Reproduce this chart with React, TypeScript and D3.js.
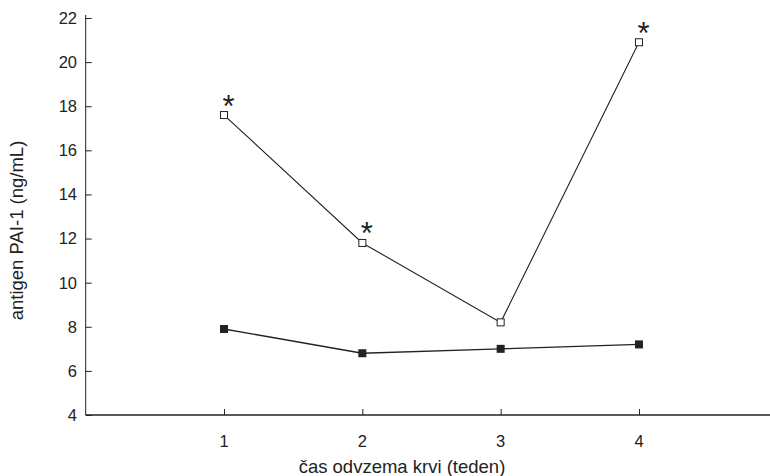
import * as d3 from 'd3';
import { useRef, useEffect } from 'react';

const weeks = [1, 2, 3, 4];
const groupOpen = [17.6, 11.8, 8.2, 20.9];
const groupFilled = [7.9, 6.8, 7.0, 7.2];
const significant = [true, true, false, true];
const yTicks = [4, 6, 8, 10, 12, 14, 16, 18, 20, 22];

export default function App() {
  const svgRef = useRef<SVGSVGElement>(null);

  useEffect(() => {
    if (!svgRef.current) return;
    const svg = d3.select(svgRef.current);
    svg.selectAll('*').remove();

    const width = 770;
    const height = 476;
    const font = 'Liberation Sans, Arial, sans-serif';

    const x = d3.scaleLinear().domain([0, 5]).range([85.7, 777.3]);
    const y = d3.scaleLinear().domain([4, 22]).range([415, 18]);

    svg.attr('width', width).attr('height', height);

    // Y axis
    const yAxis = svg.append('g').attr('transform', `translate(${x(0)},0)`)
      .call(d3.axisRight(y).tickValues(yTicks).tickSize(6).tickFormat(() => ''));
    yAxis.select('.domain').attr('stroke', '#222').attr('stroke-width', 1).attr('d', `M0,${y(22) - 3}V${y(4)}`);
    yAxis.selectAll('.tick line').attr('stroke', '#222');

    svg.append('g').selectAll('text').data(yTicks).join('text')
      .attr('x', 77).attr('y', (d) => y(d)).attr('dy', '0.36em')
      .attr('text-anchor', 'end').attr('font-family', font).attr('font-size', 16.5).attr('fill', '#222')
      .text((d) => d);

    // X axis
    const xAxis = svg.append('g').attr('transform', `translate(0,${y(4)})`)
      .call(d3.axisTop(x).tickValues(weeks).tickSize(6).tickFormat(() => ''));
    xAxis.select('.domain').attr('stroke', '#222').attr('stroke-width', 1.5).attr('d', `M${x(0)},0H770`);
    xAxis.selectAll('.tick line').attr('stroke', '#222');

    svg.append('g').selectAll('text').data(weeks).join('text')
      .attr('x', (d) => x(d)).attr('y', 441).attr('dy', '0.36em')
      .attr('text-anchor', 'middle').attr('font-family', font).attr('font-size', 16.5).attr('fill', '#222')
      .text((d) => d);

    // Axis titles
    svg.append('text')
      .attr('transform', `translate(23,${(y(4) + y(22)) / 2 + 14}) rotate(-90)`)
      .attr('text-anchor', 'middle').attr('font-family', font).attr('font-size', 18.5).attr('fill', '#222')
      .text('antigen PAI-1 (ng/mL)');

    svg.append('text')
      .attr('x', 402).attr('y', 466).attr('dy', '0.36em')
      .attr('text-anchor', 'middle').attr('font-family', font).attr('font-size', 18.5).attr('fill', '#222')
      .text('čas odvzema krvi (teden)');

    const line = d3.line<number>().x((_, i) => x(weeks[i])).y((d) => y(d));

    // Filled series
    svg.append('path').datum(groupFilled)
      .attr('fill', 'none').attr('stroke', '#222').attr('stroke-width', 1.4)
      .attr('d', line);
    svg.append('g').selectAll('rect').data(groupFilled).join('rect')
      .attr('x', (_, i) => x(weeks[i]) - 4).attr('y', (d) => y(d) - 4)
      .attr('width', 8).attr('height', 8).attr('fill', '#222');

    // Open series
    svg.append('path').datum(groupOpen)
      .attr('fill', 'none').attr('stroke', '#222').attr('stroke-width', 1.1)
      .attr('d', line);
    svg.append('g').selectAll('rect').data(groupOpen).join('rect')
      .attr('x', (_, i) => x(weeks[i]) - 3.5).attr('y', (d) => y(d) - 3.5)
      .attr('width', 7).attr('height', 7).attr('fill', '#fff')
      .attr('stroke', '#222').attr('stroke-width', 1);

    // Significance markers
    svg.append('g').selectAll('text')
      .data(groupOpen.map((v, i) => ({ v, i })).filter((d) => significant[d.i]))
      .join('text')
      .attr('x', (d) => x(weeks[d.i]) + 4.5).attr('y', (d) => y(d.v) + 1.5)
      .attr('text-anchor', 'middle').attr('font-family', font).attr('font-size', 31).attr('fill', '#222')
      .text('*');
  }, []);

  return (
    <div style={{ position: 'absolute', left: 0, top: 0, background: '#fff' }}>
      <svg ref={svgRef} width={770} height={476} style={{ display: 'block' }} />
    </div>
  );
}
